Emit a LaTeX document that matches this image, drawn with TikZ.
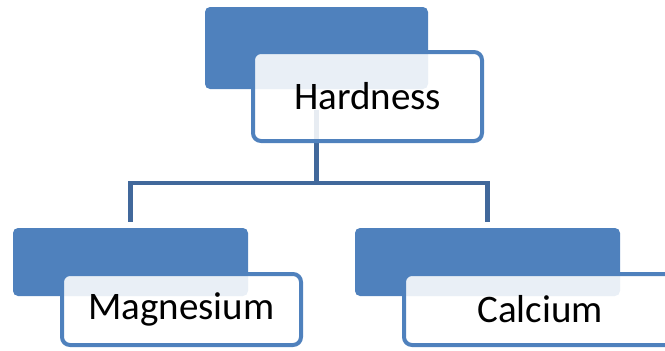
\documentclass[tikz,border=0pt]{standalone}
\usepackage{fontspec}
\setmainfont{Carlito}
\usepackage{tikz}
\usetikzlibrary{positioning,calc,backgrounds}

\definecolor{accent}{RGB}{79,129,189}
\definecolor{linkblue}{RGB}{65,104,155}

\tikzset{
  backbox/.style={fill=accent, rounded corners=5pt, anchor=north west,
    inner sep=0pt, outer sep=0pt},
  labelbox/.style={draw=accent, line width=4pt, fill=white, fill opacity=0.88,
    text opacity=1, rounded corners=8pt, anchor=north west, inner sep=0pt,
    outer sep=0pt, font=\fontsize{39}{47}\selectfont},
  link/.style={draw=linkblue, line width=4.5pt},
}

\begin{document}
\begin{tikzpicture}[x=1pt,y=-1pt]
\useasboundingbox (0,0) rectangle (665,351);

% Top box
\node[backbox, minimum width=223pt, minimum height=82pt] (hardback) at (205,7) {};
\node[labelbox, minimum width=229pt, minimum height=89pt] (hard) at (253,52) {Hardness};

% Bottom boxes
\node[backbox, minimum width=235pt, minimum height=68pt] (magback) at (13,228) {};
\node[labelbox, minimum width=239pt, minimum height=71pt] (mag) at (62,274) {Magnesium};

\node[backbox, minimum width=265pt, minimum height=68pt] (calback) at (355,228) {};
\node[labelbox, minimum width=272pt, minimum height=71pt] (cal) at (404,274) {Calcium};

% Connectors
\begin{scope}[on background layer]
\draw[link, shorten <=21pt, shorten >=6pt] (hardback.south) -- ++(0,94) -| (magback.north);
\draw[link, shorten <=21pt, shorten >=6pt] (hardback.south) -- ++(0,94) -| (calback.north);
\end{scope}
\end{tikzpicture}
\end{document}
